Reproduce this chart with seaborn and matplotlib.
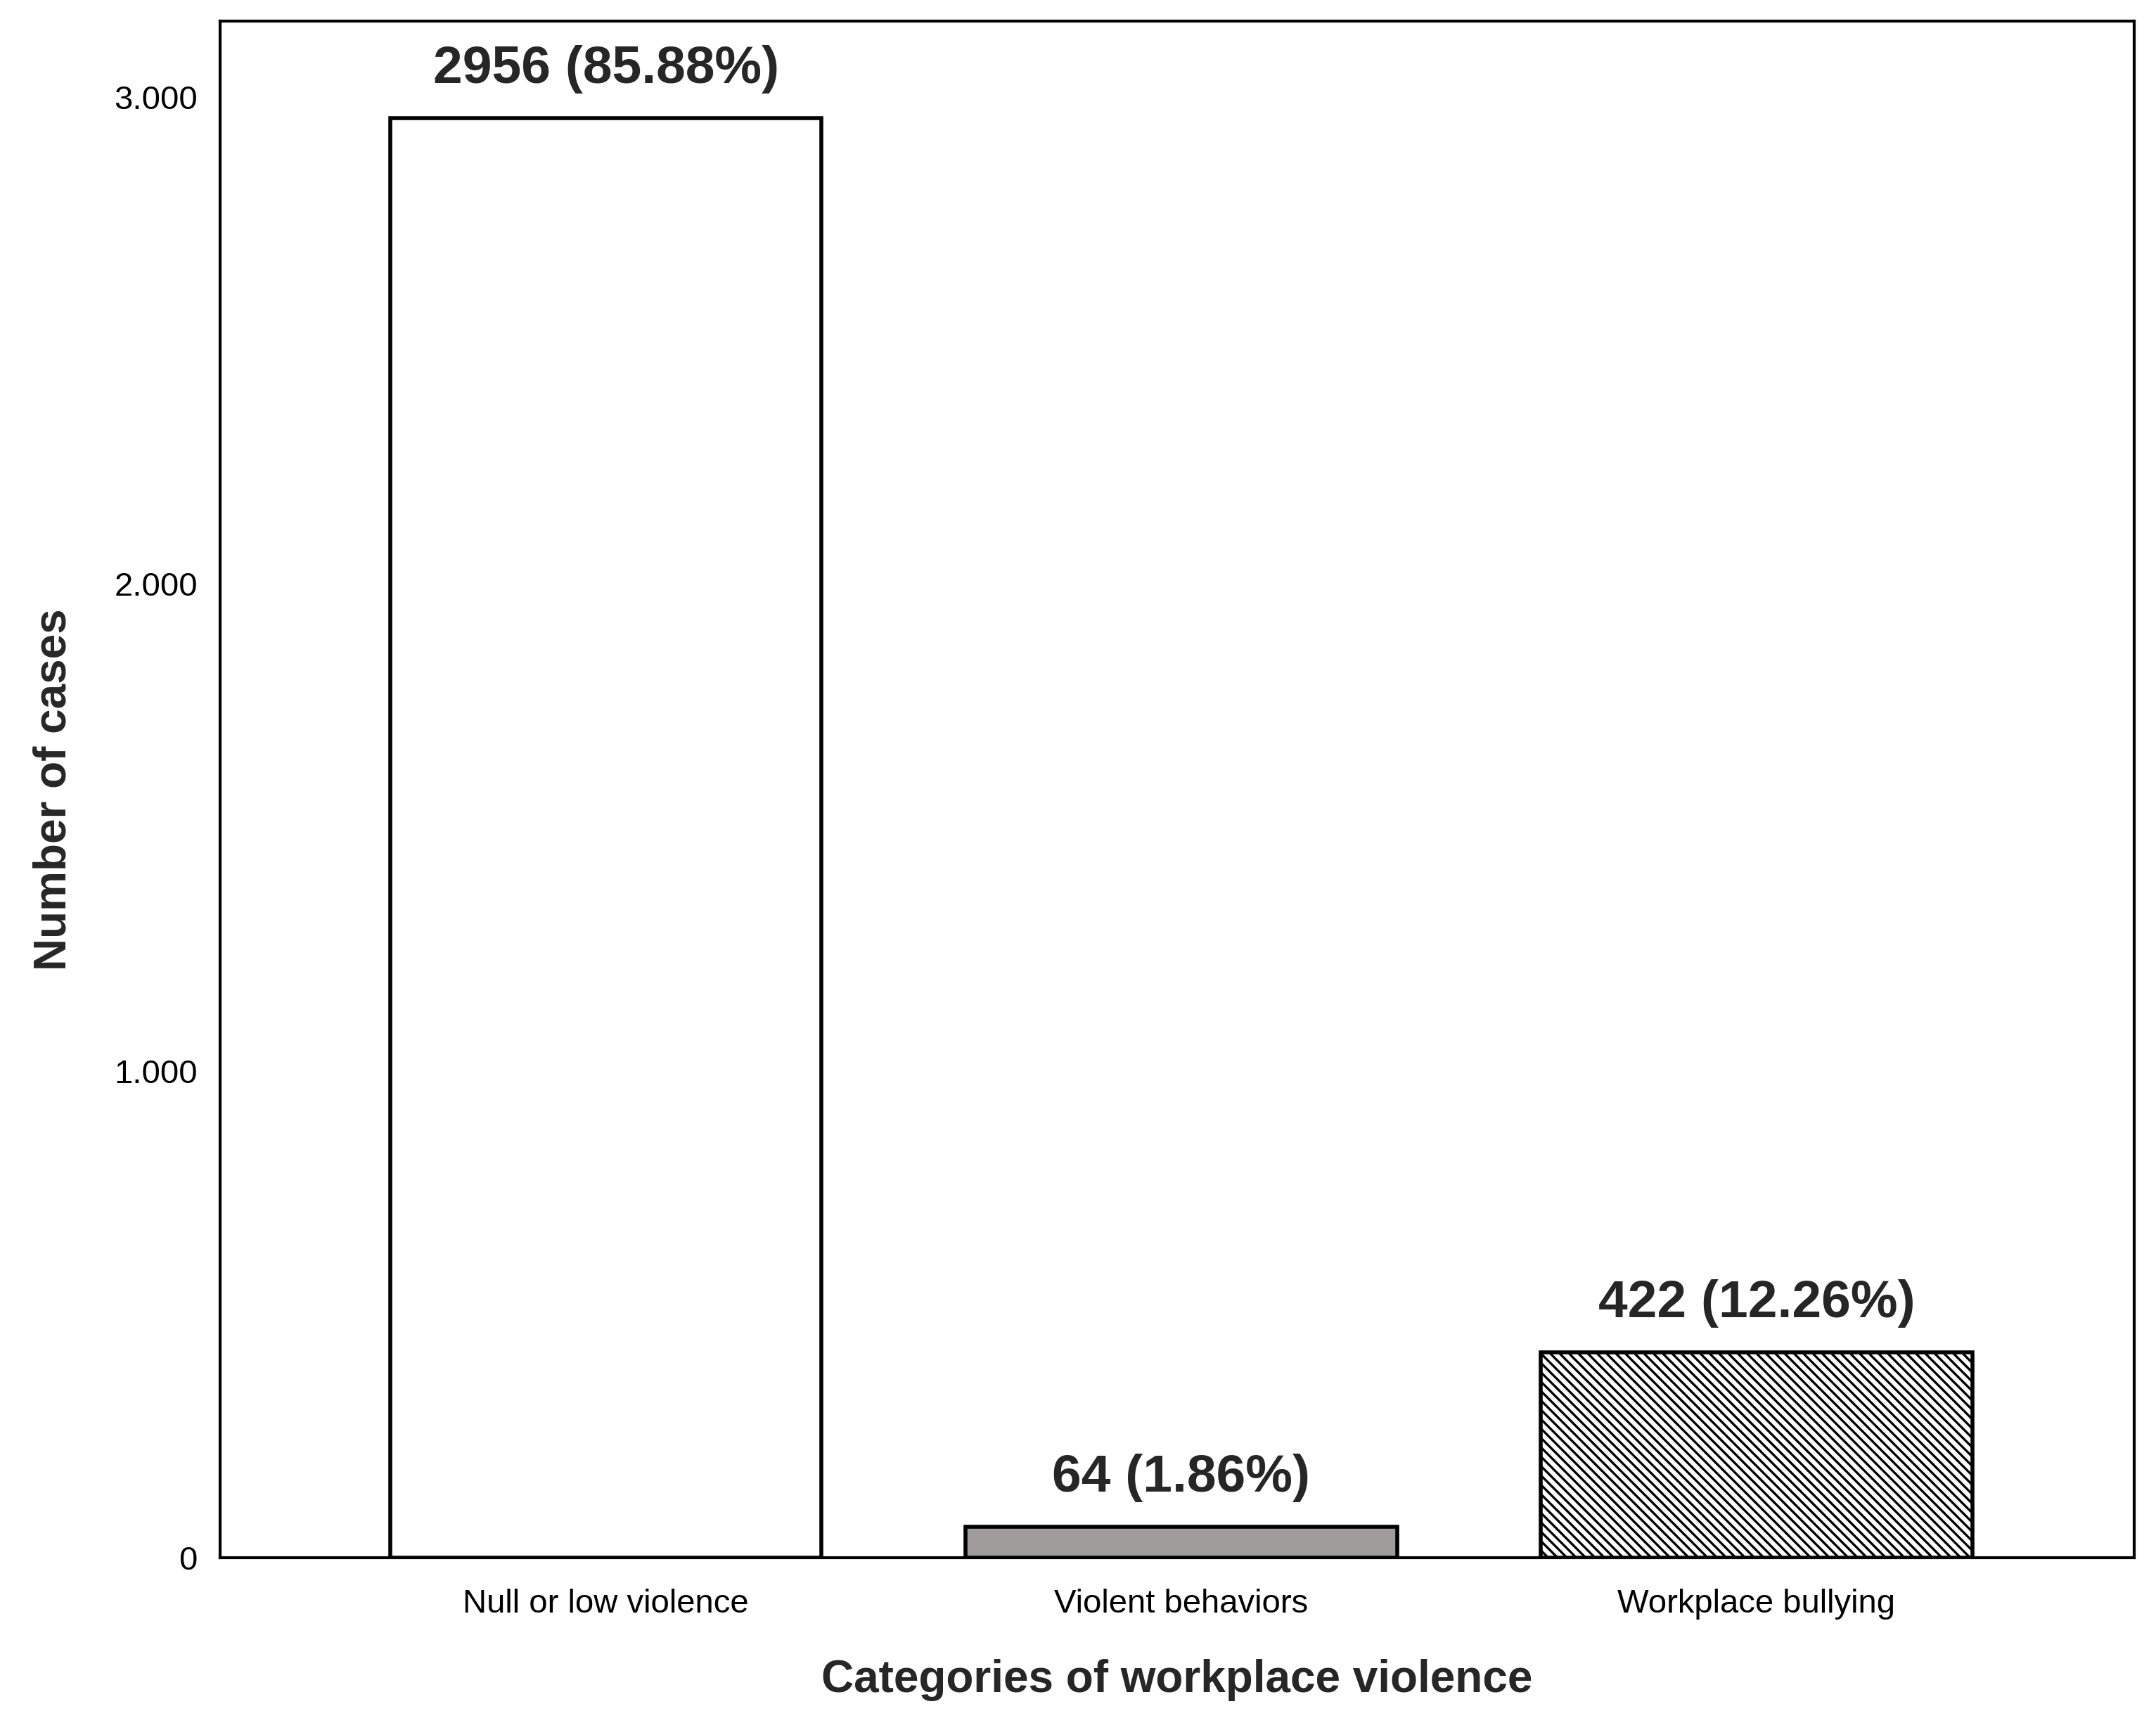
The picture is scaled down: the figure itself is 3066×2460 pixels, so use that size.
import matplotlib
matplotlib.use("Agg")
import matplotlib.pyplot as plt
import seaborn as sns
import pandas as pd
from matplotlib.ticker import FuncFormatter

categories = ["Null or low violence", "Violent behaviors", "Workplace bullying"]
counts = [2956, 64, 422]
labels = ["2956 (85.88%)", "64 (1.86%)", "422 (12.26%)"]
colors = ["#ffffff", "#a09c9a", "#ffffff"]
hatches = ["", "", "\\\\\\\\\\"]

sns.set_theme(style="white")
plt.rcParams['font.family'] = ['Liberation Sans', 'DejaVu Sans']
plt.rcParams['hatch.linewidth'] = 1.2

fig = plt.figure(figsize=(15.33, 12.3), dpi=200)
ax = fig.add_axes([0.102, 0.0996, 0.888, 0.8884])
df = pd.DataFrame({"cat": categories, "n": counts})
sns.barplot(data=df, x="cat", y="n", ax=ax, width=0.75, palette=colors, hue="cat",
            legend=False, edgecolor="black", linewidth=2)
for p, h in zip(ax.patches, hatches):
    p.set_hatch(h)
for i, (v, t) in enumerate(zip(counts, labels)):
    ax.text(i, v + 50, t, ha="center", va="bottom", fontsize=27, fontweight="bold")
ax.set_xlim(-0.671, 2.657)
ax.set_ylim(0, 3156)
ax.set_yticks([0, 1000, 2000, 3000])
ax.yaxis.set_major_formatter(FuncFormatter(lambda v, p: f"{int(v):,}".replace(",", ".")))
for s in ax.spines.values():
    s.set_color("black"); s.set_linewidth(1.5)
ax.tick_params(axis="both", direction="out", length=8, width=1.5, colors="black", labelsize=17)
ax.tick_params(axis="x", pad=8)
ax.set_xlabel("Categories of workplace violence", fontsize=23, fontweight="bold", labelpad=20)
ax.set_ylabel("Number of cases", fontsize=23, fontweight="bold", labelpad=20)
fig.savefig("out.png", dpi=200)
